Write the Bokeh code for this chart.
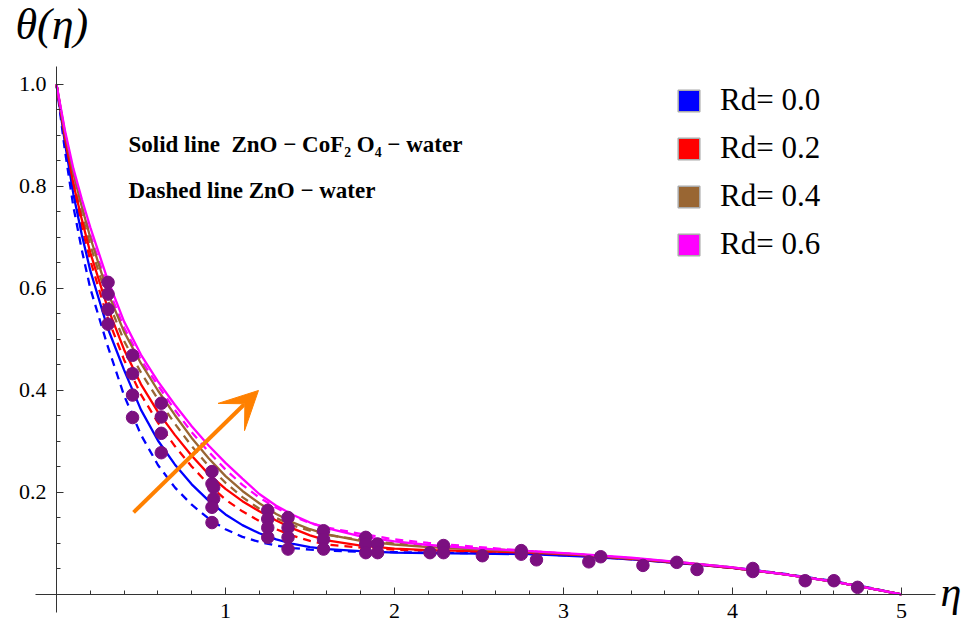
from bokeh.plotting import figure
from bokeh.models import FixedTicker, Legend, LegendItem, Label, Arrow, VeeHead, Range1d
from bokeh.embed import file_html
from bokeh.resources import INLINE

# ---------------- data ----------------
eta = [0.0, 0.05, 0.1, 0.15, 0.2, 0.3, 0.4, 0.5, 0.6, 0.7, 0.8, 0.9, 1.0, 1.1, 1.2,
       1.3, 1.4, 1.5, 1.6, 1.8, 2.0, 2.2, 2.5, 2.8, 3.1, 3.4, 3.7, 4.0, 4.3, 4.6, 4.8, 5.0]

# solid lines: ZnO - CoFe2O4 - water
theta_rd00_solid = [1.0, 0.885, 0.785, 0.705, 0.635, 0.525, 0.44, 0.362, 0.302, 0.255, 0.216, 0.184,
                    0.157, 0.136, 0.12, 0.108, 0.099, 0.093, 0.089, 0.085, 0.082, 0.081, 0.08,
                    0.079, 0.075, 0.069, 0.061, 0.052, 0.04, 0.025, 0.013, 0.0]
theta_rd02_solid = [1.0, 0.895, 0.805, 0.735, 0.67, 0.565, 0.48, 0.412, 0.358, 0.313, 0.272, 0.236,
                    0.207, 0.183, 0.163, 0.145, 0.129, 0.116, 0.106, 0.096, 0.09, 0.087, 0.085,
                    0.082, 0.077, 0.07, 0.062, 0.052, 0.04, 0.025, 0.013, 0.0]
theta_rd04_solid = [1.0, 0.905, 0.825, 0.76, 0.70, 0.595, 0.515, 0.453, 0.40, 0.352, 0.307, 0.267,
                    0.232, 0.203, 0.179, 0.158, 0.141, 0.128, 0.118, 0.105, 0.098, 0.093, 0.088,
                    0.084, 0.078, 0.071, 0.063, 0.053, 0.04, 0.025, 0.013, 0.0]
theta_rd06_solid = [1.0, 0.91, 0.835, 0.775, 0.72, 0.62, 0.535, 0.47, 0.418, 0.372, 0.33, 0.292,
                    0.258, 0.227, 0.197, 0.174, 0.156, 0.141, 0.13, 0.114, 0.104, 0.097, 0.09,
                    0.085, 0.079, 0.072, 0.063, 0.053, 0.04, 0.025, 0.013, 0.0]

# dashed lines: ZnO - water
theta_rd00_dashed = [1.0, 0.87, 0.76, 0.675, 0.60, 0.49, 0.39, 0.313, 0.254, 0.21, 0.176, 0.149,
                     0.128, 0.113, 0.103, 0.096, 0.091, 0.088, 0.086, 0.084, 0.083, 0.082, 0.081,
                     0.079, 0.076, 0.07, 0.062, 0.053, 0.041, 0.026, 0.014, 0.0]
theta_rd02_dashed = [1.0, 0.89, 0.795, 0.72, 0.655, 0.545, 0.46, 0.392, 0.337, 0.291, 0.251, 0.216,
                     0.186, 0.163, 0.144, 0.128, 0.115, 0.105, 0.098, 0.092, 0.088, 0.086, 0.083,
                     0.081, 0.076, 0.069, 0.061, 0.052, 0.04, 0.025, 0.013, 0.0]
theta_rd04_dashed = [1.0, 0.90, 0.815, 0.745, 0.685, 0.58, 0.497, 0.435, 0.383, 0.335, 0.291, 0.252,
                     0.219, 0.191, 0.168, 0.15, 0.135, 0.125, 0.117, 0.107, 0.10, 0.095, 0.09,
                     0.085, 0.078, 0.07, 0.062, 0.052, 0.04, 0.025, 0.013, 0.0]
theta_rd06_dashed = [1.0, 0.90, 0.82, 0.76, 0.705, 0.605, 0.523, 0.46, 0.41, 0.362, 0.318, 0.28,
                     0.245, 0.215, 0.19, 0.17, 0.153, 0.14, 0.131, 0.119, 0.108, 0.101, 0.093,
                     0.085, 0.078, 0.071, 0.062, 0.052, 0.04, 0.025, 0.013, 0.0]

# purple point markers
dot_eta = [0.305, 0.305, 0.305, 0.305, 0.45, 0.45, 0.45, 0.45, 0.62, 0.62, 0.62, 0.62,
           0.92, 0.92, 0.93, 0.93, 0.92, 0.92, 1.25, 1.25, 1.25, 1.25, 1.37, 1.37, 1.37, 1.37,
           1.58, 1.58, 1.58, 1.83, 1.83, 1.83, 1.90, 1.90, 2.21, 2.29, 2.29, 2.52, 2.75, 2.75,
           2.84, 3.15, 3.22, 3.47, 3.67, 3.79, 4.12, 4.12, 4.43, 4.60, 4.74]
dot_theta = [0.612, 0.589, 0.559, 0.530, 0.469, 0.433, 0.391, 0.347, 0.375, 0.348, 0.316, 0.278,
             0.241, 0.217, 0.210, 0.188, 0.171, 0.141, 0.165, 0.148, 0.131, 0.112, 0.151, 0.131,
             0.112, 0.089, 0.125, 0.108, 0.089, 0.112, 0.099, 0.082, 0.099, 0.082, 0.082, 0.096,
             0.082, 0.076, 0.086, 0.079, 0.068, 0.064, 0.074, 0.057, 0.063, 0.049, 0.045, 0.051,
             0.027, 0.027, 0.014]

rd_labels = ["Rd= 0.0", "Rd= 0.2", "Rd= 0.4", "Rd= 0.6"]
colors = ["#0000FF", "#FF0000", "#996633", "#FF00FF"]
solid_series = [theta_rd00_solid, theta_rd02_solid, theta_rd04_solid, theta_rd06_solid]
dashed_series = [theta_rd00_dashed, theta_rd02_dashed, theta_rd04_dashed, theta_rd06_dashed]

x_major = [1, 2, 3, 4, 5]
x_minor = [round(0.2 * i, 1) for i in range(1, 26)]
y_major = [0.2, 0.4, 0.6, 0.8, 1.0]
y_minor = [round(0.05 * i, 2) for i in range(1, 21)]

note_solid = "Solid line\u00a0\u00a0ZnO \u2212 CoF\u2082 O\u2084 \u2212 water"
note_dashed = "Dashed line ZnO \u2212 water"

# arrow (direction of increasing Rd)
arrow_start = (0.456, 0.161)
arrow_end = (1.195, 0.400)

SERIF = "Liberation Serif"
PURPLE = "#7B0F80"
ORANGE = "#FF8000"

# ---------------- figure ----------------
p = figure(width=961, height=623,
           x_range=Range1d(-0.3314, 5.355), y_range=Range1d(-0.0569, 1.1647),
           output_backend="svg", toolbar_location=None,
           min_border_left=0, min_border_right=0, min_border_top=0, min_border_bottom=0)
p.outline_line_color = None
p.grid.visible = False

for ys, col in zip(dashed_series, colors):
    p.line(eta, ys, line_color=col, line_width=2.3, line_dash="8 6")
for ys, col in zip(solid_series, colors):
    p.line(eta, ys, line_color=col, line_width=2.3)

p.scatter(dot_eta, dot_theta, size=12.5, marker="circle", fill_color=PURPLE, line_color=PURPLE)

# axes crossing at the origin
for ax in (p.xaxis[0], p.yaxis[0]):
    ax.fixed_location = 0
    ax.axis_line_color = "#333333"
    ax.major_tick_line_color = "#333333"
    ax.minor_tick_line_color = "#333333"
    ax.major_tick_in = 7
    ax.major_tick_out = 0
    ax.minor_tick_in = 4
    ax.minor_tick_out = 0
    ax.major_label_text_font = SERIF
    ax.major_label_text_font_size = "22px"
    ax.major_label_text_color = "black"

p.xaxis.bounds = (-0.125, 5.2)
p.yaxis.bounds = (-0.035, 1.035)
p.xaxis.major_label_standoff = 10
p.yaxis.major_label_standoff = 10
p.xaxis.ticker = FixedTicker(ticks=x_major, minor_ticks=x_minor)
p.yaxis.ticker = FixedTicker(ticks=y_major, minor_ticks=y_minor)
p.xaxis.major_label_overrides = {t: str(t) for t in x_major}
p.yaxis.major_label_overrides = {t: "%.1f" % t for t in y_major}

# axis titles
p.add_layout(Label(x=-0.243, y=1.118, text="\u03b8(\u03b7)", text_font=SERIF, text_font_style="italic",
                   text_color="black", text_font_size="44px", text_baseline="middle", text_align="left"))
p.add_layout(Label(x=5.23, y=0.004, text="\u03b7", text_font=SERIF, text_font_style="italic",
                   text_color="black", text_font_size="42px", text_baseline="middle", text_align="left"))

# notes
p.add_layout(Label(x=0.426, y=0.882, text=note_solid, text_font=SERIF, text_font_style="bold",
                   text_color="black", text_font_size="23px", text_baseline="middle"))
p.add_layout(Label(x=0.426, y=0.792, text=note_dashed, text_font=SERIF, text_font_style="bold",
                   text_color="black", text_font_size="23px", text_baseline="middle"))

# arrow
p.add_layout(Arrow(end=VeeHead(size=38, fill_color=ORANGE, line_color=ORANGE),
                   x_start=arrow_start[0], y_start=arrow_start[1],
                   x_end=arrow_end[0], y_end=arrow_end[1],
                   line_color=ORANGE, line_width=4))

# legend (swatches only, their single NaN row draws nothing in the plot)
items = []
for lab, col in zip(rd_labels, colors):
    r = p.rect(x=[float("nan")], y=[float("nan")], width=1, height=1,
               fill_color=col, line_color="#AAAAAA", line_width=1.5)
    items.append(LegendItem(label=lab, renderers=[r]))
legend = Legend(items=items, location=(675, 361), glyph_width=27, glyph_height=27,
                label_standoff=18, spacing=12, padding=0, margin=0,
                border_line_color=None, background_fill_alpha=0,
                label_text_font=SERIF, label_text_font_size="31px", label_text_color="black")
p.add_layout(legend)

open("out.html", "w").write(file_html(p, INLINE))
